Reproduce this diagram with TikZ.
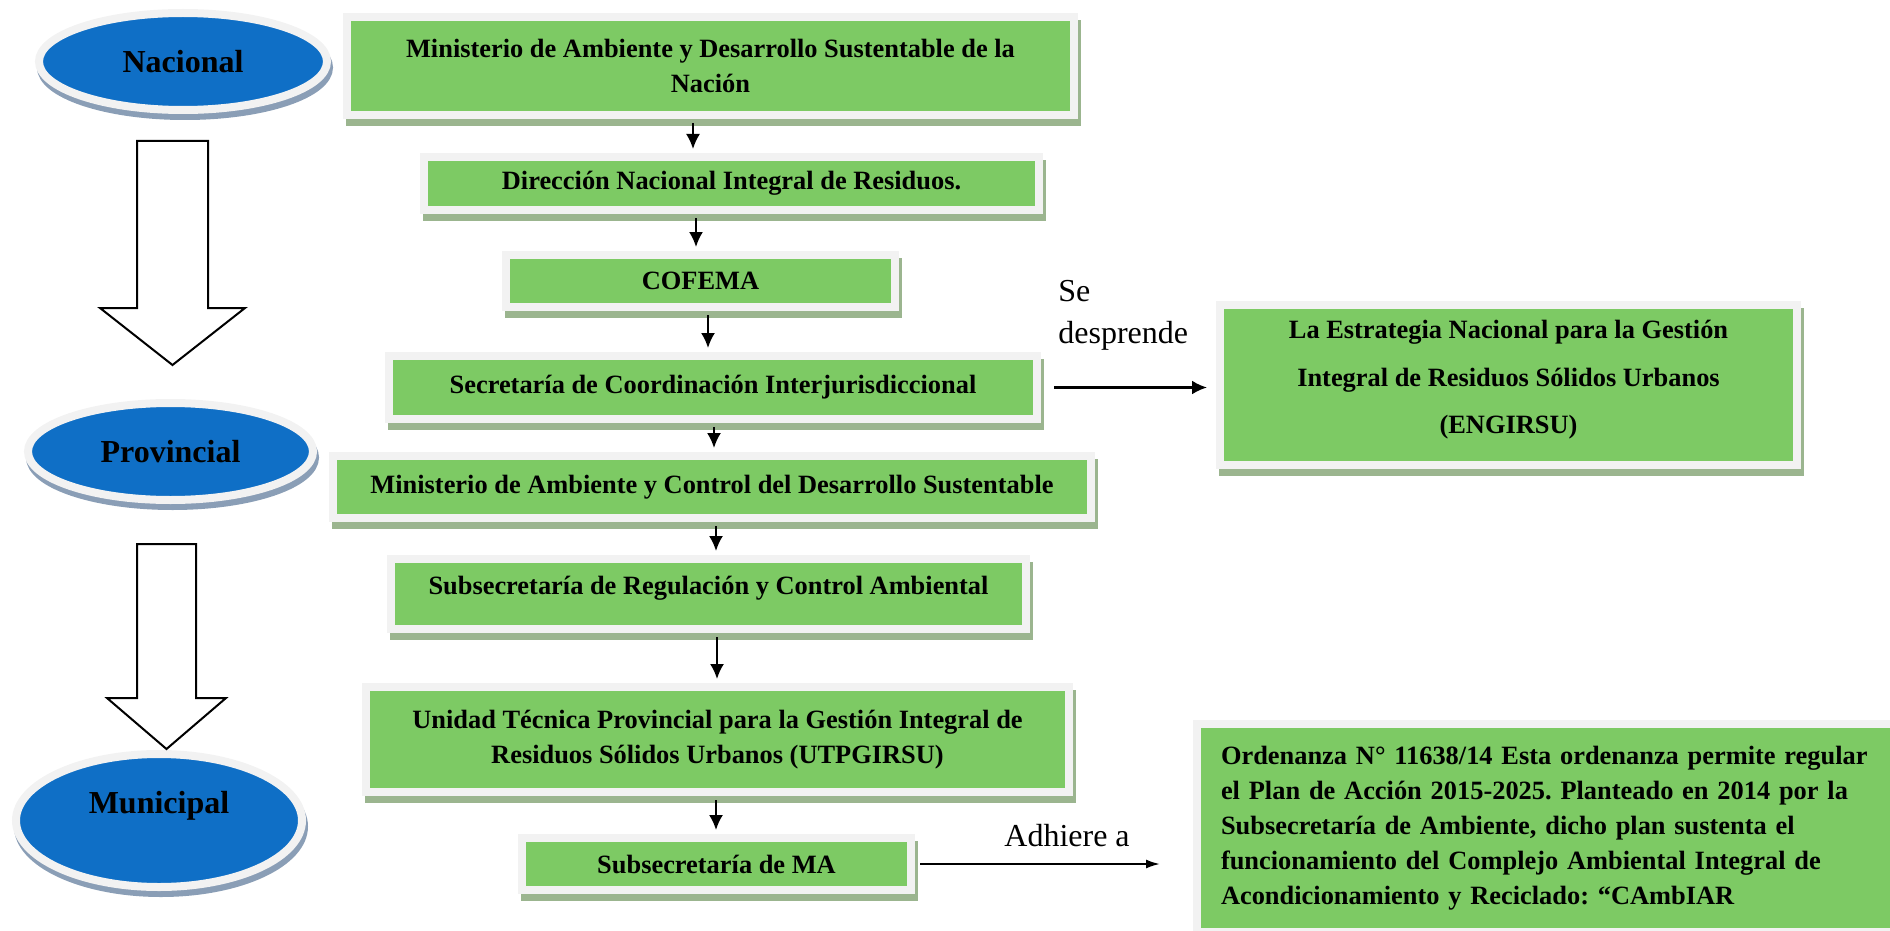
\documentclass[tikz,border=0pt]{standalone}
\usepackage{fontspec}
\setmainfont{Liberation Serif}
\usepackage{tikz}
\usetikzlibrary{arrows.meta,positioning,shapes.geometric,shadows}
\definecolor{boxgreen}{RGB}{125,202,100}
\definecolor{framegray}{RGB}{242,242,242}
\definecolor{boxshade}{RGB}{155,181,143}
\definecolor{ovalblue}{RGB}{15,111,198}
\definecolor{ovalshade}{RGB}{138,158,182}
\frenchspacing
\tikzset{
    %Define standard arrow tip
    >={Latex[length=7.5pt,width=7pt]},
    %Define style for levels
    tier/.style={
           ellipse,
           fill=ovalblue,
           draw=framegray, line width=4pt,
           font=\fontsize{16}{19}\selectfont\bfseries,
           text centered,
           drop shadow={shadow xshift=1pt, shadow yshift=-3pt, fill=ovalshade,
                        draw=ovalshade, line width=4pt, opacity=1},
           },
    %Define style for boxes
    organ/.style={
           rectangle,
           fill=boxgreen,
           draw=framegray, line width=4pt,
           font=\fontsize{13.2}{17.5}\selectfont\bfseries,
           align=center,
           drop shadow={shadow xshift=1.5pt, shadow yshift=-3.5pt, fill=boxshade,
                        draw=boxshade, line width=4pt, opacity=1},
           },
    %Define style for plain labels
    note/.style={
           inner sep=0pt,
           font=\fontsize{16}{21}\selectfont,
           },
    % Define arrow style
    pil/.style={
           ->,
           line width=1pt,
           shorten <=2pt,
           shorten >=2pt,},
    hollow/.style={draw=black, line width=1pt, fill=white, line join=miter}
}
\begin{document}
\begin{tikzpicture}[x=0.5pt,y=-0.5pt]
\useasboundingbox (0,0) rectangle (1890,931);
\clip (0,0) rectangle (1890,931);
% levels
\node[tier, minimum width=144pt, minimum height=48.5pt] (N) at (183,61.5) {Nacional};
\node[tier, minimum width=142.5pt, minimum height=48.5pt] (P) at (170.5,451.5) {Provincial};
\node[tier, minimum width=143pt, minimum height=66.5pt] (Mu) at (159,820.5) {\raisebox{7.5pt}[\height][\depth]{Municipal}};
\draw[hollow] (137,141) -- (208,141) -- (208,308) -- (245,308) -- (172.5,365) -- (100,308) -- (137,308) -- cycle;
\draw[hollow] (137,544) -- (196,544) -- (196,698) -- (226,698) -- (166.5,749) -- (107,698) -- (137,698) -- cycle;
% chain of organs
\node[organ, minimum width=363.5pt, minimum height=49pt] (MAD) at (710.5,66) {Ministerio de Ambiente y Desarrollo Sustentable de la\\Nación};
\node[organ, minimum width=307.5pt, minimum height=26.5pt] (DNI) at (731.5,183.5) {Dirección Nacional Integral de Residuos.};
\node[organ, minimum width=194.5pt, minimum height=26pt] (COF) at (700.5,281) {COFEMA};
\node[organ, minimum width=324pt, minimum height=31.5pt] (SCI) at (713,387.5) {Secretaría de Coordinación Interjurisdiccional};
\node[organ, minimum width=379pt, minimum height=31pt] (MAC) at (712,487) {Ministerio de Ambiente y Control del Desarrollo Sustentable};
\node[organ, minimum width=317.5pt, minimum height=35pt] (SRC) at (708.5,594) {\raisebox{3pt}[\height][\depth]{Subsecretaría de Regulación y Control Ambiental}};
\node[organ, minimum width=351.5pt, minimum height=52.5pt] (UTP) at (717.5,739.5) {Unidad Técnica Provincial para la Gestión Integral de\\Residuos Sólidos Urbanos (UTPGIRSU)};
\node[organ, minimum width=194.5pt, minimum height=26pt] (SMA) at (716.5,864) {Subsecretaría de MA};
% side boxes
\node[organ, minimum width=288.5pt, minimum height=80pt, text depth=8pt, font=\fontsize{13.2}{23.8}\selectfont\bfseries] (ENG) at (1508.5,385) {La Estrategia Nacional para la Gestión\\Integral de Residuos Sólidos Urbanos\\(ENGIRSU)};
\node[organ, anchor=north west, align=left, text width=376pt, inner xsep=12pt, minimum height=104pt] (ORD) at (1193,720) {Ordenanza N° 11638/14 Esta ordenanza permite regular\\el Plan de Acción 2015-2025. Planteado en 2014 por la\\Subsecretaría de Ambiente, dicho plan sustenta el\\funcionamiento del Complejo Ambiental Integral de\\Acondicionamiento y Reciclado: “CAmbIAR};
\node[note, anchor=west, align=left] (SD) at (1058,315) {Se\\desprende};
\node[note, anchor=west] (AD) at (1004,836) {Adhiere a};
\path[pil]
    ([xshift=-8.75pt]MAD.south) edge ([xshift=-8.75pt]MAD.south |- DNI.north)
    ([xshift=-17.75pt]DNI.south) edge ([xshift=-17.75pt]DNI.south |- COF.north)
    ([xshift=3.75pt]COF.south) edge ([xshift=3.75pt]COF.south |- SCI.north)
    ([xshift=0.5pt]SCI.south) edge ([xshift=0.5pt]SCI.south |- MAC.north)
    ([xshift=2pt]MAC.south) edge ([xshift=2pt]MAC.south |- SRC.north)
    ([xshift=4.25pt]SRC.south) edge ([xshift=4.25pt]SRC.south |- UTP.north)
    ([xshift=-0.75pt]UTP.south) edge ([xshift=-0.75pt]UTP.south |- SMA.north)
    (SCI.east) edge[line width=1.2pt, shorten <=6.5pt, shorten >=4.5pt] (SCI.east -| ENG.west)
    (SMA.east) edge[shorten <=2.5pt, shorten >=16.5pt, >={Latex[length=7pt,width=4.5pt]}] (SMA.east -| ORD.west);
\end{tikzpicture}
\end{document}
